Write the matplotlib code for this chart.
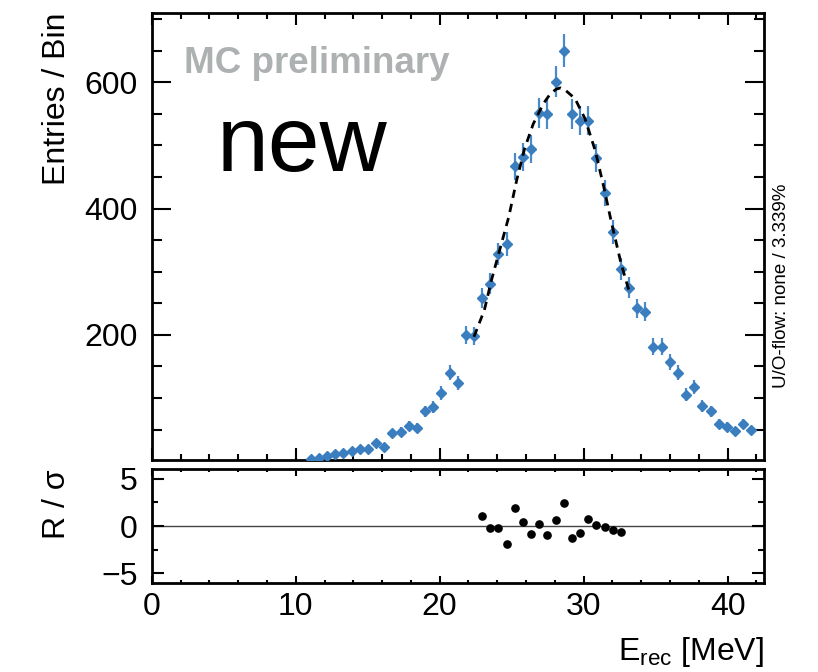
import numpy as np
import matplotlib
matplotlib.use("Agg")
import matplotlib.pyplot as plt
from matplotlib.ticker import MultipleLocator

plt.rcParams["font.family"] = ["Liberation Sans", "DejaVu Sans"]
plt.rcParams["mathtext.fontset"] = "custom"
plt.rcParams["mathtext.rm"] = "Liberation Sans"

# ── Data ──────────────────────────────────────────────────────────────────────
# 75 bins over 0-42.5 MeV; points shown for bins 19..73
BIN_LO, BIN_HI, N_BINS = 0.0, 42.5, 75
FIRST_BIN = 19
counts = [4, 5, 8, 11, 13, 16, 19, 19, 29, 22,
          45, 47, 56, 53, 79, 86, 108, 140, 124, 200,
          198, 258, 281, 328, 344, 467, 482, 494, 551, 550,
          601, 650, 550, 539, 539, 480, 424, 363, 305, 275,
          242, 237, 181, 181, 157, 140, 105, 117, 87, 79,
          59, 55, 48, 59, 49]

# fit curve, sampled from the dashed line
fit_x = [22.38, 23.1, 23.6, 24.2, 24.8, 25.35, 25.9, 26.5, 27.2, 27.7,
         28.1, 28.4, 28.7, 29.4, 30.1, 30.8, 31.4, 31.95, 32.6, 33.2]
fit_y = [197, 239, 287, 337, 387, 445, 495, 534, 566, 582,
         589, 591, 588, 574, 542, 492, 434, 376, 313, 266]

# residuals (R / sigma) for bins 40..57
RES_FIRST_BIN = 40
residuals = [1.09, -0.18, -0.18, -1.94, 1.87, 0.42, -0.88, 0.21, -0.95, 0.6,
             2.44, -1.24, -0.71, 0.77, 0.1, -0.14, -0.46, -0.6]

BLUE = "#3a7ebf"
EBLUE = "#4a8acb"

bw = (BIN_HI - BIN_LO) / N_BINS
x_data = BIN_LO + (np.arange(FIRST_BIN, FIRST_BIN + len(counts)) + 0.5) * bw
y_data = np.array(counts, dtype=float)
y_err = np.sqrt(y_data)
x_res = BIN_LO + (np.arange(RES_FIRST_BIN, RES_FIRST_BIN + len(residuals)) + 0.5) * bw

# ── Figure ────────────────────────────────────────────────────────────────────
fig = plt.figure(figsize=(8.18, 6.72), dpi=100)
ax = fig.add_axes([0.1855, 0.3155, 0.748, 0.6656])
axr = fig.add_axes([0.1855, 0.1329, 0.748, 0.1687], sharex=ax)

ax.errorbar(x_data, y_data, yerr=y_err, fmt="D", color=BLUE, ecolor=EBLUE,
            ms=5.5, elinewidth=1.6, capsize=0, zorder=3)
ax.plot(fit_x, fit_y, color="black", lw=2.0, ls=(0, (3.0, 2.2)), zorder=4)

ax.set_xlim(0, 42.5)
ax.set_ylim(2, 710)
ax.yaxis.set_major_locator(MultipleLocator(200))
ax.yaxis.set_minor_locator(MultipleLocator(50))
ax.xaxis.set_major_locator(MultipleLocator(10))
ax.xaxis.set_minor_locator(MultipleLocator(2))
ax.set_yticks([200, 400, 600])
ax.tick_params(labelbottom=False)

axr.axhline(0, color="#444444", lw=1.0, zorder=1)
axr.plot(x_res, residuals, "o", color="black", ms=5.2, zorder=3)
axr.set_ylim(-6, 6)
axr.yaxis.set_major_locator(MultipleLocator(5))
axr.yaxis.set_minor_locator(MultipleLocator(2.5))

for a in (ax, axr):
    for s in a.spines.values():
        s.set_linewidth(2.0)
    a.tick_params(which="both", direction="in", top=True, right=True,
                  width=1.5, labelsize=23)
    a.tick_params(axis="x", which="major", length=8.5, pad=7)
    a.tick_params(axis="x", which="minor", length=4.3)
    a.tick_params(axis="y", pad=10)

ax.tick_params(axis="y", which="major", length=13.5)
ax.tick_params(axis="y", which="minor", length=7)
axr.tick_params(axis="y", which="major", length=8.5)
axr.tick_params(axis="y", which="minor", length=4.5)
axr.tick_params(axis="x", which="major", length=5)
axr.tick_params(axis="x", which="minor", length=2.5)

ax.set_ylabel("Entries / Bin", fontsize=23, loc="top")
axr.set_ylabel("R / σ", fontsize=23, loc="top")
ax.yaxis.set_label_coords(-0.13, 1.0)
axr.yaxis.set_label_coords(-0.13, 1.0)
axr.set_xlabel(r"E$_{\mathrm{rec}}$ [MeV]", fontsize=23, loc="right", labelpad=9)

ax.text(0.052, 0.887, "MC preliminary", transform=ax.transAxes, fontsize=26.5,
        fontweight="bold", color="#aeb1b1", ha="left", va="center")
ax.text(0.106, 0.70, "new", transform=ax.transAxes, fontsize=67,
        color="black", ha="left", va="center")
fig.text(781.7 / 818, 1 - 286 / 672, "U/O-flow: none / 3.339%", rotation=90,
         fontsize=13.5, ha="center", va="center")

fig.savefig("out.png", dpi=100)
